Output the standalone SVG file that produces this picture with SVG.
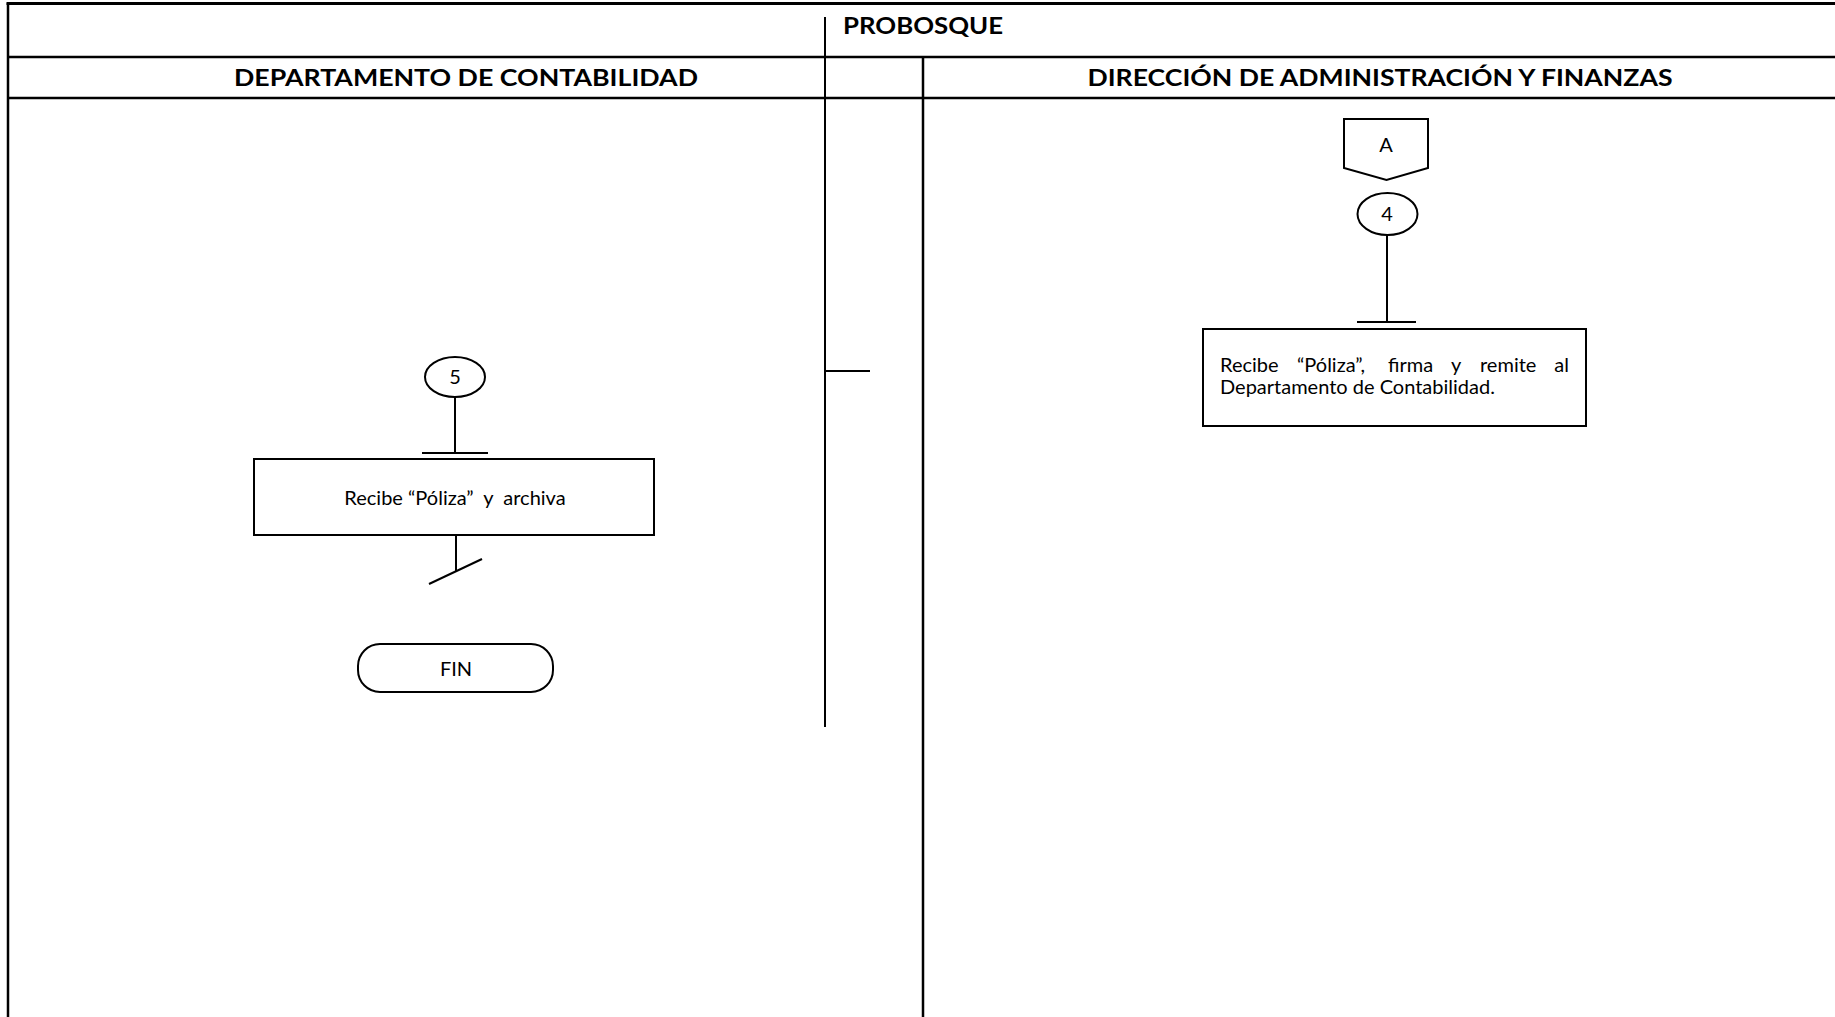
<svg xmlns="http://www.w3.org/2000/svg" width="1835" height="1017" viewBox="0 0 1835 1017">
<style>
.frame{stroke:#000;fill:none;stroke-width:2.5}
.thin{stroke:#000;fill:none;stroke-width:2}
.shape{stroke:#000;fill:#fff;stroke-width:2}
.hdr{font-family:Lato,"Liberation Sans",sans-serif;font-weight:bold;font-size:22px;fill:#000}
.txt{font-family:Lato,"Liberation Sans",sans-serif;font-size:20px;fill:#000}
</style>
<rect width="1835" height="1017" fill="#fff"/>
<g id="frame">
<line class="frame" x1="6.5" y1="3.5" x2="1835" y2="3.5" style="stroke-width:3"/>
<line class="frame" x1="8" y1="3" x2="8" y2="1017"/>
<line class="frame" x1="8" y1="57" x2="1835" y2="57"/>
<line class="frame" x1="8" y1="98" x2="1835" y2="98"/>
<line class="thin" x1="825" y1="17" x2="825" y2="727"/>
<line class="frame" x1="923" y1="57" x2="923" y2="1017"/>
<text class="hdr" x="843" y="34" textLength="160" lengthAdjust="spacingAndGlyphs">PROBOSQUE</text>
<text class="hdr" x="466" y="86" text-anchor="middle" textLength="464" lengthAdjust="spacingAndGlyphs">DEPARTAMENTO DE CONTABILIDAD</text>
<text class="hdr" x="1380" y="86" text-anchor="middle" textLength="585" lengthAdjust="spacingAndGlyphs">DIRECCIÓN DE ADMINISTRACIÓN Y FINANZAS</text>
</g>
<g id="connectors">
<line class="thin" x1="825" y1="371" x2="870" y2="371"/>
<line class="thin" x1="1387" y1="235" x2="1387" y2="322"/>
<line class="thin" x1="1357" y1="322" x2="1416" y2="322"/>
<line class="thin" x1="455" y1="397" x2="455" y2="453"/>
<line class="thin" x1="422" y1="453" x2="488" y2="453"/>
<line class="thin" x1="456" y1="535" x2="456" y2="571"/>
<line class="thin" x1="429" y1="584" x2="482" y2="559"/>
</g>
<g id="node-A">
<path class="shape" d="M1344,119 H1428 V168 L1386.5,180 L1344,168 Z"/>
<text class="txt" x="1386" y="152" text-anchor="middle">A</text>
</g>
<g id="node-4">
<ellipse class="shape" cx="1387.5" cy="214" rx="30" ry="21"/>
<text class="txt" x="1387" y="221" text-anchor="middle">4</text>
</g>
<g id="node-recibe-firma">
<rect class="shape" x="1203" y="329" width="383" height="97"/>
<text class="txt" y="372"><tspan x="1220">Recibe</tspan><tspan x="1297">“Póliza”,</tspan><tspan x="1388">firma</tspan><tspan x="1451">y</tspan><tspan x="1480">remite</tspan></text>
<text class="txt" x="1569" y="372" text-anchor="end">al</text>
<text class="txt" x="1220" y="394">Departamento de Contabilidad.</text>
</g>
<g id="node-5">
<ellipse class="shape" cx="455" cy="377" rx="30" ry="20"/>
<text class="txt" x="455" y="384" text-anchor="middle">5</text>
</g>
<g id="node-recibe-archiva">
<rect class="shape" x="254" y="459" width="400" height="76"/>
<text class="txt" x="455" y="505" text-anchor="middle" xml:space="preserve">Recibe “Póliza”  y  archiva</text>
</g>
<g id="node-fin">
<rect class="shape" x="358" y="644" width="195" height="48" rx="22" ry="22"/>
<text class="txt" x="456" y="676" text-anchor="middle">FIN</text>
</g>
</svg>
